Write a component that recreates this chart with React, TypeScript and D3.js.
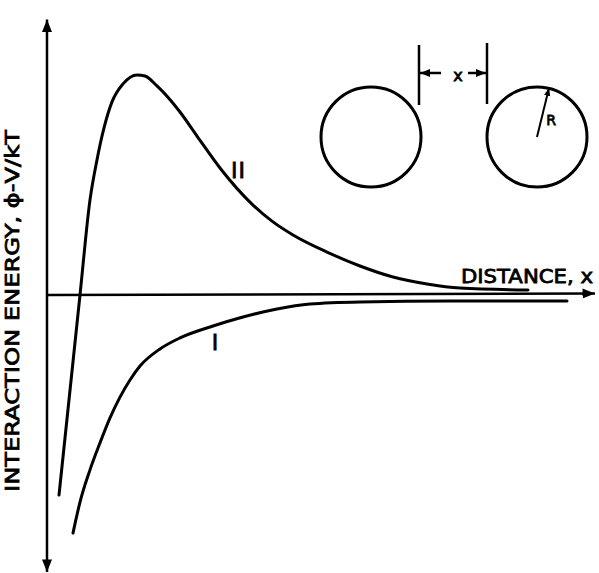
import React from "react";
import * as d3 from "d3";

// Curve II (repulsive barrier) — distance, energy
const curveIIx = [0.24, 0.66, 0.86, 1.0, 1.14, 1.3, 1.52, 1.8, 1.96, 2.2, 2.66, 3.0, 3.46, 4.12, 4.52, 4.92, 5.6, 6.26, 6.92, 7.6, 8.26, 9.62];
const curveIIy = [-6.9, 0, 3.28, 4.66, 5.76, 6.66, 7.28, 7.59, 7.55, 7.21, 6.31, 5.48, 4.38, 3.1, 2.52, 2.07, 1.48, 1.0, 0.62, 0.38, 0.24, 0.17];

// Curve I (attractive)
const curveIx = [0.52, 0.66, 0.86, 1.06, 1.26, 1.46, 1.66, 1.86, 2.26, 2.66, 3.32, 3.92, 4.6, 5.26, 6.26, 8.06, 10.4];
const curveIy = [-8.21, -7.14, -6.03, -5.1, -4.24, -3.52, -2.93, -2.45, -1.86, -1.48, -1.07, -0.76, -0.48, -0.31, -0.24, -0.21, -0.21];

const yLabel = "INTERACTION ENERGY, \u03D5-V/kT";
const xLabel = "DISTANCE, x";
const curveLabels = ["II", "I"];

const W = 599;
const H = 573;

export default function App() {
  const x = d3.scaleLinear().domain([0, 11]).range([47, 597]);
  const y = d3.scaleLinear().domain([-10, 10]).range([585, 5]);

  const line = d3
    .line<[number, number]>()
    .x((d) => x(d[0]))
    .y((d) => y(d[1]))
    .curve(d3.curveMonotoneX);

  const dII = line(curveIIx.map((v, i) => [v, curveIIy[i]] as [number, number])) || "";
  const dI = line(curveIx.map((v, i) => [v, curveIy[i]] as [number, number])) || "";

  const font = "'DejaVu Sans', sans-serif";
  const textProps = { fontFamily: font, fill: "#000", stroke: "#000", strokeWidth: 0.8 };

  return (
    <svg
      width={W}
      height={H}
      style={{ position: "absolute", left: 0, top: 0, background: "#fff" }}
    >
      <defs>
        <marker id="ah" viewBox="0 0 10 10" refX="10" refY="5" markerWidth="5" markerHeight="5" orient="auto-start-reverse">
          <path d="M0,1 L10,5 L0,9 Z" fill="#000" />
        </marker>
        <marker id="sm" viewBox="0 0 10 10" refX="10" refY="5" markerWidth="4" markerHeight="4" orient="auto-start-reverse">
          <path d="M0,1 L10,5 L0,9 Z" fill="#000" />
        </marker>
      </defs>

      {/* y axis with arrows both ends */}
      <line x1={x(0)} y1={y(9.5)} x2={x(0)} y2={y(-9.55)} stroke="#000" strokeWidth={2.5}
        markerStart="url(#ah)" markerEnd="url(#ah)" />
      {/* x axis */}
      <line x1={x(0)} y1={y(0)} x2={x(10.96)} y2={y(0.05)} stroke="#000" strokeWidth={2.5} markerEnd="url(#ah)" />

      {/* curves */}
      <path d={dII} fill="none" stroke="#000" strokeWidth={3} strokeLinecap="round" />
      <path d={dI} fill="none" stroke="#000" strokeWidth={3} strokeLinecap="round" />

      {/* curve labels */}
      <text x={238} y={178} {...textProps} fontSize={22} textAnchor="middle" textLength={14} lengthAdjust="spacing">
        {curveLabels[0]}
      </text>
      <text x={215} y={350} {...textProps} fontSize={22} textAnchor="middle">
        {curveLabels[1]}
      </text>

      {/* axis labels */}
      <text x={461} y={283} {...textProps} fontSize={20} textLength={132} lengthAdjust="spacingAndGlyphs">
        {xLabel}
      </text>
      <text
        transform="translate(19,492) rotate(-90)"
        {...textProps}
        fontSize={20}
        textLength={362}
        lengthAdjust="spacingAndGlyphs"
      >
        {yLabel}
      </text>

      {/* inset diagram: two spheres separated by x */}
      <g stroke="#000" fill="none">
        <circle cx={371} cy={137} r={50} strokeWidth={3} />
        <circle cx={537} cy={137} r={50} strokeWidth={3} />
        <line x1={419} y1={45} x2={419} y2={105} strokeWidth={2.5} />
        <line x1={487} y1={43} x2={487} y2={104} strokeWidth={2.5} />
        <line x1={441} y1={73} x2={420} y2={73} strokeWidth={2.5} markerEnd="url(#sm)" />
        <line x1={468} y1={73} x2={486} y2={73} strokeWidth={2.5} markerEnd="url(#sm)" />
        <line x1={537} y1={137} x2={549} y2={88} strokeWidth={2} markerEnd="url(#sm)" />
      </g>
      <text x={458} y={81} {...textProps} fontSize={16} textAnchor="middle">x</text>
      <text x={551} y={125} {...textProps} fontSize={14} textAnchor="middle">R</text>
    </svg>
  );
}
